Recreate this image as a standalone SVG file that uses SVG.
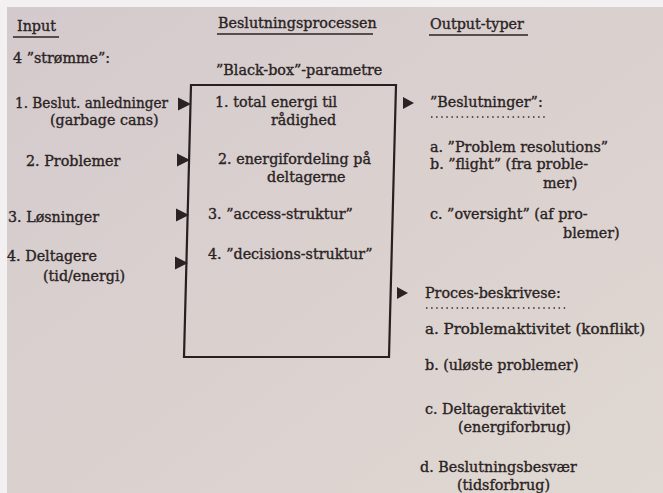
<svg xmlns="http://www.w3.org/2000/svg" width="663" height="493" viewBox="0 0 663 493">
<defs>
<linearGradient id="paper" x1="0" y1="0" x2="1" y2="1">
<stop offset="0" stop-color="#d4cacd"/>
<stop offset="0.5" stop-color="#dad1cf"/>
<stop offset="1" stop-color="#e0d8d2"/>
</linearGradient>
<path id="arrIn" d="M0,-6.5 L13,0 L0,6.5 Z"/>
<path id="arrOut" d="M0,-6 L11,0 L0,6 Z"/>
<style>
text{font-family:"DejaVu Serif","Liberation Serif",serif;font-size:14.3px;fill:#2a2323;stroke:#2a2323;stroke-width:0.35px;}
.ul{stroke:#2a2323;stroke-width:1.7;fill:none;}
.dot{stroke:#332c2c;stroke-width:1.7;stroke-dasharray:1.5 3.6;fill:none;}
.box{stroke:#262020;stroke-width:2.2;fill:none;stroke-linejoin:miter;}
.arr{fill:#2a2323;}
</style>
</defs>
<rect x="0" y="0" width="663" height="493" fill="#f2f0f1"/>
<rect x="7" y="7" width="656" height="486" fill="url(#paper)"/>

<g id="headers">
<text x="17" y="31">Input</text>
<line class="ul" x1="13" y1="37" x2="59" y2="37"/>
<text x="218" y="28">Beslutningsprocessen</text>
<line class="ul" x1="217" y1="34" x2="373" y2="34"/>
<text x="430" y="29">Output-typer</text>
<line class="ul" x1="429" y1="35" x2="528" y2="35"/>
</g>

<g id="inputs">
<text x="13" y="63">4 ”strømme”:</text>
<g id="in1"><text x="15" y="108" textLength="153" lengthAdjust="spacingAndGlyphs">1. Beslut. anledninger</text><text x="50" y="125">(garbage cans)</text></g>
<g id="in2"><text x="26" y="166">2. Problemer</text></g>
<g id="in3"><text x="8" y="222">3. Løsninger</text></g>
<g id="in4"><text x="7" y="261">4. Deltagere</text><text x="43" y="281">(tid/energi)</text></g>
</g>

<g id="blackbox">
<text x="216" y="75">”Black-box”-parametre</text>
<polygon class="box" points="191,85 396,85 389,357 184,357"/>
<g id="p1"><text x="215" y="107">1. total energi til</text><text x="271" y="125">rådighed</text></g>
<g id="p2"><text x="218" y="164">2. energifordeling på</text><text x="267" y="182">deltagerne</text></g>
<g id="p3"><text x="208" y="219">3. ”access-struktur”</text></g>
<g id="p4"><text x="208" y="259">4. ”decisions-struktur”</text></g>
</g>

<g id="out-beslutninger">
<text x="430" y="107">”Beslutninger”:</text>
<line class="dot" x1="431" y1="117" x2="546" y2="117"/>
<text x="430" y="152">a. ”Problem resolutions”</text>
<text x="430" y="169">b. ”flight” (fra proble-</text>
<text x="543" y="188">mer)</text>
<text x="430" y="219">c. ”oversight” (af pro-</text>
<text x="563" y="238">blemer)</text>
</g>

<g id="out-proces">
<text x="425" y="298">Proces-beskrivese:</text>
<line class="dot" x1="426" y1="308" x2="568" y2="308"/>
<text x="425" y="334" textLength="220" lengthAdjust="spacingAndGlyphs">a. Problemaktivitet (konflikt)</text>
<text x="425" y="370">b. (uløste problemer)</text>
<text x="425" y="414">c. Deltageraktivitet</text>
<text x="458" y="432">(energiforbrug)</text>
<text x="420" y="472">d. Beslutningsbesvær</text>
<text x="457" y="490">(tidsforbrug)</text>
</g>

<g id="connectors" class="arr">
<use href="#arrIn" x="178" y="104"/>
<use href="#arrIn" x="177" y="160"/>
<use href="#arrIn" x="176" y="215"/>
<use href="#arrIn" x="175" y="263"/>
<use href="#arrOut" x="403" y="103"/>
<use href="#arrOut" x="397" y="293"/>
</g>
</svg>
